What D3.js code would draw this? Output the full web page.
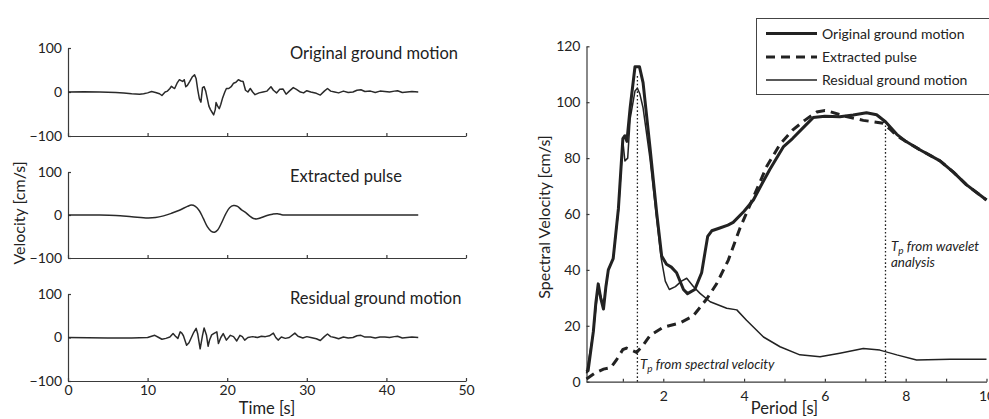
<!DOCTYPE html>
<html>
<head>
<meta charset="utf-8">
<script src="https://cdn.jsdelivr.net/npm/d3@7"></script>
<style>
  html, body { margin: 0; padding: 0; background: #fff; }
  svg { display: block; font-family: Lato, "Open Sans", sans-serif; }
  .axis path, .axis line { stroke: #3a3a3a; stroke-width: 1.2; }
  .axis text { fill: #222; font-size: 14px; font-family: Lato, sans-serif; }
</style>
</head>
<body>
<svg id="chart" width="989" height="419"></svg>
<script>
// ---- Time histories (time [s], velocity [cm/s]) ----
const originalTime = [0,2,4,5,6,7,8,9,9.5,10,10.5,11,11.5,11.8,12.2,12.5,12.8,13.0,13.2,13.4,13.7,14.0,14.2,14.4,14.6,14.8,15.0,15.3,15.6,15.9,16.1,16.3,16.5,16.7,16.9,17.1,17.3,17.5,17.7,17.9,18.1,18.3,18.5,18.6,18.8,19.0,19.2,19.4,19.7,19.9,20.2,20.5,20.8,21.1,21.4,21.7,22.0,22.3,22.6,22.9,23.2,23.5,24.0,24.5,25.0,25.5,25.8,26.2,26.6,27.0,27.4,27.8,28.3,28.7,29.2,29.6,30.0,30.5,31.2,31.7,32.2,32.6,33.0,33.5,34.0,34.6,35.2,35.8,36.3,36.8,37.3,38.0,38.6,39.2,39.8,40.4,41.0,41.4,42.0,42.6,43.2,44.0];
const originalVel  = [0,0.5,0,-0.5,-1,-2,-4,-5,-4,-2,1,-1,-4,-8,0,2,8,13,10,8,20,28,26,24,28,12,15,24,34,39,30,5,-15,-23,10,12,2,-15,-32,-40,-46,-52,-40,-24,-32,-38,-28,-15,0,8,8,12,20,22,28,25,24,4,0,8,0,-6,-2,0,2,12,4,-2,6,7,-5,2,10,6,0,-2,3,0,-3,-7,2,8,2,0,-2,2,-1,0,4,5,1,2,-1,2,1,0,2,3,-1,0,1,0];

const pulseTime = [0,4,6,8,10,11,12,13,14,15,15.5,16,16.5,17,17.5,18,18.4,18.8,19.3,19.8,20.3,20.8,21.3,21.8,22.3,22.8,23.3,23.8,24.3,25,25.7,26.3,27,28,44];
const pulseVel  = [0,0,-1,-4,-7,-6,-2,4,11,20,23,20,10,-8,-27,-38,-40,-35,-18,2,17,22,20,12,6,-2,-8,-9,-6,-1,2,3,0,0,0];

const residualTime = [0,5,8,10,10.5,10.9,11.4,11.8,12.3,12.8,13.2,13.5,13.8,14.1,14.3,14.5,14.9,15.2,15.5,15.8,16.1,16.3,16.6,16.9,17.1,17.4,17.6,17.8,18.05,18.4,18.7,18.9,19.2,19.5,19.9,20.4,20.8,21.2,21.6,21.9,22.2,22.6,23.2,23.8,24.3,24.8,25.3,25.8,26.1,26.4,26.8,27.3,27.8,28.5,28.9,29.5,30,30.5,31.2,31.7,32.2,32.6,33,33.5,34,34.6,35.2,35.8,36.3,36.8,37.3,38,38.6,39.2,39.8,40.4,41,41.4,42,42.6,43.2,44];
const residualVel  = [0,-1,-1,0,3,5,0,-4,-2,1,9,3,-2,13,10,4,-18,-12,0,12,21,8,-26,5,22,5,-20,-5,6,10,13,-14,0,9,-6,5,2,-8,5,2,-6,0,2,0,3,2,4,10,0,-6,1,-2,0,10,3,-1,2,0,-3,-7,2,8,2,0,-3,1,-1,0,4,5,1,1,-1,1,1,0,2,3,-1,0,1,0];

const panelTitles = ["Original ground motion", "Extracted pulse", "Residual ground motion"];
const timeTicks = [0, 10, 20, 30, 40, 50];
const velTicks = [-100, 0, 100];

// ---- Velocity response spectra (period [s], Sv [cm/s]) ----
const svOrigPeriod = [0.1,0.14,0.27,0.33,0.39,0.45,0.52,0.58,0.64,0.76,0.89,1.0,1.05,1.1,1.18,1.3,1.41,1.5,1.67,1.84,1.96,2.08,2.2,2.33,2.5,2.6,2.78,2.95,3.03,3.1,3.2,3.4,3.6,3.73,4.0,4.23,4.45,4.64,4.97,5.2,5.47,5.71,6.0,6.37,6.7,7.03,7.28,7.5,7.78,8.0,8.35,8.85,9.18,9.5,10.0];
const svOrig       = [3.5,4,18,28,35,30,26,34,40,44,62,87,88,86,98,112.7,112.7,107,84,60,45,42,41,39,33,31.5,33,39,46,52,54,55,56,57,61,65,71,76,84,87,91,94.5,95,94.8,95.4,96.2,95.5,93,88.5,86,83,79,75,70.5,65];

const svPulsePeriod = [0.1,0.3,0.52,0.7,0.85,1.0,1.09,1.34,1.5,1.67,2.0,2.41,2.74,3.07,3.32,3.61,3.9,4.23,4.56,4.89,5.2,5.5,5.8,6.0,6.13,6.5,6.95,7.44,7.6,7.78,8.0,8.35,8.85,9.18,9.5,10.0];
const svPulse       = [1,3,4.5,5,8,11.5,12,10.5,13,16.5,19.5,21,23.5,29.5,35,43.5,55,66,77,85,90,93.5,96.5,97,96.6,95,93.5,92.5,90.5,88,86,83,79,75,70.5,65];

const svResPeriod = [0.1,0.27,0.39,0.52,0.64,0.76,0.89,1.0,1.05,1.12,1.18,1.3,1.36,1.42,1.5,1.67,1.84,1.95,2.05,2.15,2.3,2.45,2.58,2.75,2.91,3.16,3.57,3.82,4.06,4.48,4.89,5.38,5.88,6.37,6.95,7.36,7.78,8.27,9.1,10.0];
const svRes       = [3,18,34,27,40,44,61,86,79,80,94,104,105,103,98,80,58,44,36,33,34,36,37,34,31.6,28.6,26.3,25.7,22,16,12.5,9.6,8.9,10.2,11.9,11.3,9.6,7.8,8.0,8.0];

const tpSpectral = 1.36;
const tpWavelet = 7.5;
const periodTicks = [1, 2, 3, 4, 5, 6, 7, 8, 9, 10];
const periodLabels = [2, 4, 6, 8, 10];
const svTicks = [0, 20, 40, 60, 80, 100, 120];
const legendLabels = ["Original ground motion", "Extracted pulse", "Residual ground motion"];

const svg = d3.select("#chart");
const ink = "#222";

// ================= Left: three stacked time histories =================
const xT = d3.scaleLinear().domain([0, 50]).range([68, 466]);
const panels = [
  { top: 48, bottom: 136, t: originalTime, v: originalVel },
  { top: 172, bottom: 258, t: pulseTime, v: pulseVel },
  { top: 294, bottom: 381, t: residualTime, v: residualVel }
];
const titleBaselines = [59, 182, 304];

panels.forEach((p, i) => {
  const y = d3.scaleLinear().domain([-100, 100]).range([p.bottom, p.top]);
  const g = svg.append("g");

  const xAxis = d3.axisBottom(xT).tickValues(timeTicks).tickSize(-3).tickSizeOuter(0).tickPadding(4);
  if (i < 2) xAxis.tickFormat("");
  g.append("g").attr("class", "axis").attr("transform", `translate(0,${p.bottom})`).call(xAxis);

  const yAxis = d3.axisLeft(y).tickValues(velTicks).tickSize(-3).tickSizeOuter(0).tickPadding(6);
  g.append("g").attr("class", "axis").attr("transform", `translate(${xT(0)},0)`).call(yAxis);

  const line = d3.line()
    .x((d, k) => xT(p.t[k]))
    .y(d => y(d))
    .curve(i === 1 ? d3.curveCatmullRom : d3.curveLinear);
  g.append("path").datum(p.v).attr("d", line)
    .attr("fill", "none").attr("stroke", "#2a2a2a")
    .attr("stroke-width", 1.5).attr("stroke-linejoin", "round");

  g.append("text").attr("x", 290).attr("y", titleBaselines[i])
    .attr("font-size", 16.5).attr("fill", ink).text(panelTitles[i]);
});

svg.append("text").attr("x", xT(25)).attr("y", 414)
  .attr("text-anchor", "middle").attr("font-size", 16.5).attr("fill", ink).text("Time [s]");
svg.append("text").attr("transform", "translate(25,213) rotate(-90)")
  .attr("text-anchor", "middle").attr("font-size", 16).attr("fill", ink).text("Velocity [cm/s]");

// ================= Right: velocity response spectra =================
const xP = d3.scaleLinear().domain([0.1, 10]).range([586.5, 986.5]);
const yS = d3.scaleLinear().domain([0, 120]).range([381.7, 46.3]);
const gr = svg.append("g");

gr.append("g").attr("class", "axis").attr("transform", `translate(0,${yS(0)})`)
  .call(d3.axisBottom(xP).tickValues(periodTicks).tickSize(-3).tickSizeOuter(0).tickPadding(9)
    .tickFormat(d => periodLabels.includes(d) ? d : ""));
gr.append("g").attr("class", "axis").attr("transform", `translate(${xP(0.1)},0)`)
  .call(d3.axisLeft(yS).tickValues(svTicks).tickSize(-3).tickSizeOuter(0).tickPadding(6));

// Tp markers
function tpLine(T, top) {
  gr.append("line").attr("x1", xP(T)).attr("x2", xP(T))
    .attr("y1", yS(0)).attr("y2", yS(top))
    .attr("stroke", ink).attr("stroke-width", 1.3).attr("stroke-dasharray", "1.6,2.2");
}
tpLine(tpSpectral, 110);
tpLine(tpWavelet, 93);

const lineP = (xs) => d3.line().x((d, k) => xP(xs[k])).y(d => yS(d)).curve(d3.curveLinear);

gr.append("path").datum(svRes).attr("d", lineP(svResPeriod))
  .attr("fill", "none").attr("stroke", ink).attr("stroke-width", 1.5).attr("stroke-linejoin", "round");
gr.append("path").datum(svPulse).attr("d", lineP(svPulsePeriod))
  .attr("fill", "none").attr("stroke", ink).attr("stroke-width", 3).attr("stroke-dasharray", "9,6");
gr.append("path").datum(svOrig).attr("d", lineP(svOrigPeriod))
  .attr("fill", "none").attr("stroke", ink).attr("stroke-width", 3).attr("stroke-linejoin", "round");

// annotations
const ann1 = gr.append("text").attr("x", 640).attr("y", 369).attr("font-size", 13.4)
  .attr("font-style", "italic").attr("fill", ink);
ann1.append("tspan").text("T");
ann1.append("tspan").attr("font-size", 10).attr("dy", 2.5).text("p");
ann1.append("tspan").attr("dy", -2.5).text(" from spectral  velocity");

const ann2 = gr.append("text").attr("x", 891).attr("y", 251).attr("font-size", 13.4)
  .attr("font-style", "italic").attr("fill", ink);
ann2.append("tspan").text("T");
ann2.append("tspan").attr("font-size", 10).attr("dy", 2.5).text("p");
ann2.append("tspan").attr("dy", -2.5).text(" from wavelet");
gr.append("text").attr("x", 891).attr("y", 267).attr("font-size", 13.4)
  .attr("font-style", "italic").attr("fill", ink).text("analysis");

svg.append("text").attr("x", xP(5)).attr("y", 414)
  .attr("text-anchor", "middle").attr("font-size", 16.5).attr("fill", ink).text("Period [s]");
svg.append("text").attr("transform", "translate(550,217) rotate(-90)")
  .attr("text-anchor", "middle").attr("font-size", 16).attr("fill", ink).text("Spectral Velocity [cm/s]");

// legend
const lg = svg.append("g");
lg.append("rect").attr("x", 756.5).attr("y", 18.5).attr("width", 240).attr("height", 76)
  .attr("fill", "#fff").attr("stroke", "#444").attr("stroke-width", 1);
const legendStyles = [
  { w: 3, dash: null },
  { w: 3, dash: "9,6" },
  { w: 1.5, dash: null }
];
const legendRows = [33.5, 57, 80];
legendLabels.forEach((lab, i) => {
  const ln = lg.append("line").attr("x1", 766).attr("x2", 817)
    .attr("y1", legendRows[i]).attr("y2", legendRows[i])
    .attr("stroke", ink).attr("stroke-width", legendStyles[i].w);
  if (legendStyles[i].dash) ln.attr("stroke-dasharray", legendStyles[i].dash);
  lg.append("text").attr("x", 822).attr("y", legendRows[i] + 5)
    .attr("font-size", 14).attr("fill", ink).text(lab);
});
</script>
</body>
</html>
